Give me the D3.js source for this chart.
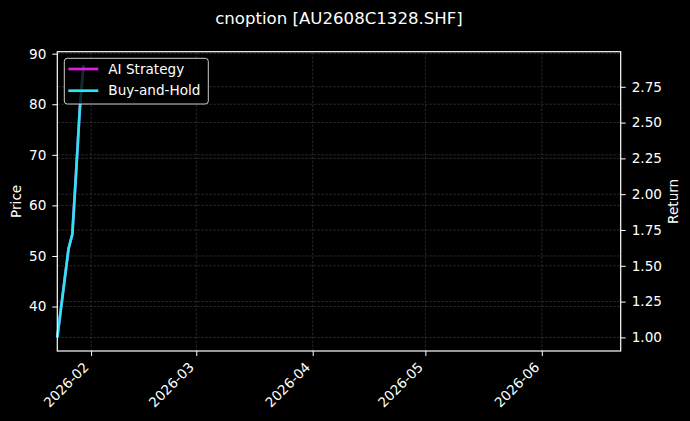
<!DOCTYPE html>
<html>
<head>
<meta charset="utf-8">
<script src="https://cdn.jsdelivr.net/npm/d3@7"></script>
<style>
  html, body { margin: 0; padding: 0; background: #000; }
  svg { display: block; font-family: "DejaVu Sans", sans-serif; }
</style>
</head>
<body>
<div id="chart"></div>
<script>
const dates = ["2026-01-23", "2026-01-26", "2026-01-27", "2026-01-28", "2026-01-29", "2026-01-30"];
const aiStrategy = [1.00, 1.62, 1.72, 2.15, 2.60, 2.90];
const buyHold = [1.00, 1.62, 1.72, 2.15, 2.60, 2.90];
const price = [33.9, 51.4, 54.2, 66.4, 79.1, 87.7];
const xRange = ["2026-01-23", "2026-06-22"];
const priceTicks = [40, 50, 60, 70, 80, 90];
const returnTicks = [1.00, 1.25, 1.50, 1.75, 2.00, 2.25, 2.50, 2.75];
const monthTicks = ["2026-02-01", "2026-03-01", "2026-04-01", "2026-05-01", "2026-06-01"];

const W = 690;
const H = 421;
const M = { top: 51.7, right: 69.3, bottom: 70, left: 57.3 };
const FS = 13.6;

const parse = d3.timeParse("%Y-%m-%d");

const svg = d3.select("#chart").append("svg").attr("width", W).attr("height", H);
svg.append("rect").attr("width", W).attr("height", H).attr("fill", "#000");

// padded extent like matplotlib autoscale
function pad(ext) {
  const r = ext[1] - ext[0];
  return [ext[0] - 0.05 * r, ext[1] + 0.05 * r];
}

const x = d3.scaleTime()
  .domain(xRange.map(parse))
  .range([M.left, W - M.right]);

const yL = d3.scaleLinear()
  .domain(pad(d3.extent(price)))
  .range([H - M.bottom, M.top]);

const yR = d3.scaleLinear()
  .domain(pad(d3.extent(aiStrategy.concat(buyHold))))
  .range([H - M.bottom, M.top]);

const x0 = M.left, x1 = W - M.right, y0 = H - M.bottom, y1 = M.top;

// grid
const grid = svg.append("g").attr("stroke", "#444").attr("stroke-width", 0.6).attr("stroke-dasharray", "2.5,1.5");
monthTicks.map(parse).forEach(d => {
  grid.append("line").attr("x1", x(d)).attr("x2", x(d)).attr("y1", y0).attr("y2", y1);
});
priceTicks.forEach(v => {
  grid.append("line").attr("x1", x0).attr("x2", x1).attr("y1", yL(v)).attr("y2", yL(v));
});
returnTicks.forEach(v => {
  grid.append("line").attr("x1", x0).attr("x2", x1).attr("y1", yR(v)).attr("y2", yR(v));
});

// lines
const rows = dates.map((d, i) => ({ date: parse(d), ai: aiStrategy[i], bh: buyHold[i] }));

svg.append("path")
  .datum(rows)
  .attr("fill", "none")
  .attr("stroke", "#e01ee0")
  .attr("stroke-width", 2.7)
  .attr("d", d3.line().x(d => x(d.date)).y(d => yR(d.ai)));

svg.append("path")
  .datum(rows)
  .attr("fill", "none")
  .attr("stroke", "#2ae6f0")
  .attr("stroke-width", 2.7)
  .attr("d", d3.line().x(d => x(d.date)).y(d => yR(d.bh)));

// axes
function styleAxis(g) {
  g.select(".domain").remove();
  g.selectAll("line").attr("stroke", "#fff").attr("stroke-width", 1);
  g.selectAll("text").attr("fill", "#fff").attr("font-size", FS).attr("font-family", "DejaVu Sans");
}

svg.append("g")
  .attr("transform", `translate(0,${y0})`)
  .call(d3.axisBottom(x).tickValues(monthTicks.map(parse)).tickFormat(d3.timeFormat("%Y-%m")).tickSize(5))
  .call(styleAxis)
  .call(g => g.selectAll("text")
    .attr("text-anchor", "end")
    .attr("x", 0).attr("y", 0).attr("dy", 0)
    .attr("transform", "translate(-2,17) rotate(-45)"));

svg.append("g")
  .attr("transform", `translate(${x0},0)`)
  .call(d3.axisLeft(yL).tickValues(priceTicks).tickSize(5).tickPadding(6))
  .call(styleAxis);

svg.append("g")
  .attr("transform", `translate(${x1},0)`)
  .call(d3.axisRight(yR).tickValues(returnTicks).tickFormat(d3.format(".2f")).tickSize(5).tickPadding(6))
  .call(styleAxis);

// frame
svg.append("rect")
  .attr("x", x0).attr("y", y1)
  .attr("width", x1 - x0).attr("height", y0 - y1)
  .attr("fill", "none").attr("stroke", "#fff").attr("stroke-width", 1.2);

// labels
svg.append("text")
  .attr("x", (x0 + x1) / 2).attr("y", 24)
  .attr("text-anchor", "middle")
  .attr("fill", "#fff").attr("font-size", 16.6)
  .text("cnoption [AU2608C1328.SHF]");

svg.append("text")
  .attr("transform", `translate(21,${(y0 + y1) / 2}) rotate(-90)`)
  .attr("text-anchor", "middle")
  .attr("fill", "#fff").attr("font-size", FS)
  .text("Price");

svg.append("text")
  .attr("transform", `translate(678,${(y0 + y1) / 2}) rotate(-90)`)
  .attr("text-anchor", "middle")
  .attr("fill", "#fff").attr("font-size", FS)
  .text("Return");

// legend
const legend = svg.append("g").attr("transform", "translate(64.3,58.3)");
legend.append("rect")
  .attr("width", 144).attr("height", 45.7).attr("rx", 3)
  .attr("fill", "#000").attr("fill-opacity", 0.8)
  .attr("stroke", "#cccccc").attr("stroke-width", 1);

const items = [
  { name: "AI Strategy", color: "#e01ee0" },
  { name: "Buy-and-Hold", color: "#2ae6f0" }
];
items.forEach((it, i) => {
  const yy = 10.7 + i * 21.7;
  legend.append("line").attr("x1", 4).attr("x2", 34).attr("y1", yy).attr("y2", yy)
    .attr("stroke", it.color).attr("stroke-width", 2.7);
  legend.append("text").attr("x", 44).attr("y", yy).attr("dy", "0.35em")
    .attr("fill", "#fff").attr("font-size", FS).text(it.name);
});
</script>
</body>
</html>
